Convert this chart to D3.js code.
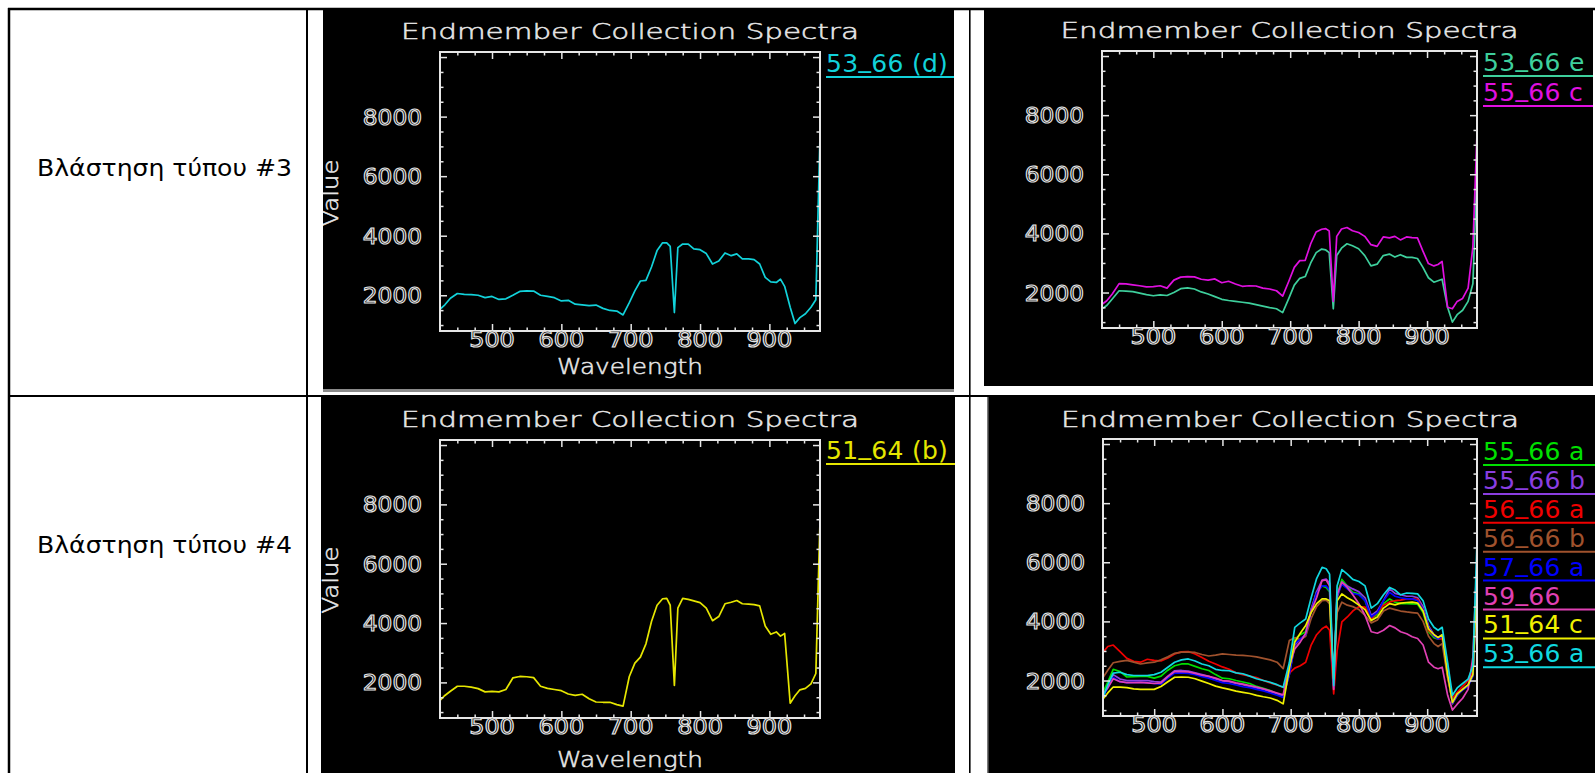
<!DOCTYPE html>
<html>
<head>
<meta charset="utf-8">
<title>Endmember Collection Spectra</title>
<script src="https://cdn.jsdelivr.net/npm/d3@7/dist/d3.min.js"></script>
<style>
  html, body { margin: 0; padding: 0; background: #fff; }
  svg { display: block; }
  text { font-family: "DejaVu Sans", "Liberation Sans", sans-serif; }
</style>
</head>
<body>
<svg id="fig" width="1595" height="773"></svg>
<script>
// Band centres (nm) shared by every spectrum below
const wavelengths = [
  425, 432, 440, 450, 460, 470, 480, 490, 500,
  510, 520, 530, 540, 550, 560, 570, 580, 590, 600,
  610, 620, 630, 640, 650, 660, 670, 680,
  689, 698, 706, 714, 722, 730, 738, 746,
  752, 757, 763, 768, 775, 783, 791, 800,
  809, 818, 827, 836, 845, 853, 861, 870,
  878, 886, 894, 902, 910, 916, 922, 930,
  937, 944, 952, 960, 967, 973
];

// Endmember spectra (one value per band)
const s53_66_d = [
  1530, 1680, 1900, 2060, 2030, 2020, 2000, 1920, 1960,
  1860, 1880, 2000, 2130, 2150, 2140, 2000, 1960, 1920, 1810,
  1830, 1700, 1680, 1650, 1670, 1560, 1490, 1470,
  1340, 1750, 2150, 2480, 2500, 2950, 3500, 3760,
  3760, 3640, 1420, 3600, 3720, 3720, 3560, 3530,
  3400, 3050, 3150, 3420, 3330, 3390, 3220, 3220,
  3200, 3050, 2600, 2450, 2430, 2540, 2300, 1600,
  1050, 1250, 1380, 1600, 1850, 7350
];
const s53_66_e = [
  1450, 1560, 1780, 2060, 2050, 2030, 1980, 1930, 1890,
  1920, 1900, 2000, 2130, 2160, 2120, 2020, 1950, 1860, 1770,
  1730, 1700, 1670, 1640, 1590, 1540, 1490, 1450,
  1320, 1800, 2250, 2480, 2540, 3000, 3350, 3470,
  3440, 3350, 1450, 3250, 3500, 3650, 3580, 3480,
  3250, 2900, 2960, 3250, 3300, 3200, 3280, 3190,
  3190, 3150, 2850, 2500, 2350, 2400, 2450, 1500,
  1000, 1250, 1400, 1700, 2300, 6150
];
const s55_66_c = [
  1600, 1720, 1950, 2300, 2290, 2260, 2230, 2190, 2200,
  2230, 2150, 2420, 2520, 2540, 2530, 2450, 2420, 2460, 2330,
  2380, 2290, 2210, 2230, 2220, 2150, 2120, 2060,
  1880, 2380, 2850, 3080, 3090, 3650, 4050, 4140,
  4160, 4080, 1700, 3900, 4150, 4200, 4090, 4030,
  3900, 3620, 3560, 3880, 3850, 3900, 3780, 3880,
  3860, 3850, 3400, 2980, 2900, 2950, 3050, 1500,
  1450, 1700, 1800, 2150, 3550, 7380
];
const s51_64_b = [
  1390, 1560, 1700, 1870, 1870, 1840, 1790, 1680, 1700,
  1680, 1760, 2150, 2200, 2190, 2160, 1870, 1800, 1760, 1720,
  1610, 1560, 1600, 1450, 1340, 1330, 1330, 1250,
  1200, 2200, 2650, 2850, 3300, 4050, 4600, 4820,
  4830, 4600, 1900, 4500, 4830, 4800, 4750, 4690,
  4500, 4080, 4220, 4650, 4700, 4760, 4650, 4640,
  4620, 4580, 3900, 3620, 3700, 3560, 3650, 1300,
  1550, 1750, 1800, 1950, 2300, 7450
];
const s55_66_a = [
  1600, 1950, 2380, 2300, 2120, 2130, 2140, 2140, 2080,
  2150, 2350, 2500, 2560, 2560, 2480, 2400, 2340, 2200, 2080,
  2060, 2000, 1950, 1900, 1800, 1740, 1660, 1550,
  1440, 2300, 3400, 3550, 3650, 4400, 5000, 5200,
  5150, 5000, 1700, 4900, 5420, 5200, 4980, 4930,
  4700, 4080, 4250, 4600, 4760, 4650, 4600, 4600,
  4590, 4580, 4300, 3650, 3450, 3400, 3500, 2300,
  1270, 1550, 1700, 1850, 2200, 5800
];
const s55_66_b = [
  1500, 1800, 2200, 2050, 2000, 2000, 2000, 2000, 1960,
  1950, 2150, 2330, 2340, 2320, 2260, 2200, 2140, 2050, 1990,
  1960, 1900, 1860, 1800, 1750, 1700, 1620, 1560,
  1480, 2200, 3200, 3400, 3550, 4400, 5000, 5400,
  5430, 5300, 1800, 4800, 5330, 5200, 5100, 5000,
  4800, 4200, 4350, 4700, 5100, 4950, 4900, 4850,
  4850, 4800, 4500, 3850, 3550, 3450, 3550, 2300,
  1210, 1500, 1700, 1850, 2200, 5600
];
const s56_66_a = [
  2950, 3150, 3200, 2980, 2750, 2650, 2620, 2720, 2680,
  2660, 2760, 2900, 2970, 2980, 2900, 2780, 2650, 2560, 2460,
  2380, 2260, 2200, 2150, 2100, 2000, 1920, 1850,
  1770, 2250, 2420, 2500, 2620, 3200, 3550, 3750,
  3840, 3700, 1550, 3000, 3980, 4150, 4350, 4500,
  4480, 4080, 4300, 4550, 4660, 4700, 4720, 4760,
  4760, 4750, 4400, 3700, 3500, 3400, 3420, 2100,
  1400, 1600, 1800, 2000, 2300, 5200
];
const s56_66_b = [
  2100, 2350, 2600, 2650, 2680, 2620, 2560, 2600, 2620,
  2700, 2800, 2920, 2960, 2960, 2950, 2880, 2830, 2860, 2900,
  2880, 2860, 2850, 2830, 2800, 2750, 2700, 2620,
  2400, 3350, 3450, 3380, 3500, 4100, 4500, 4700,
  4720, 4600, 2000, 4300, 4650, 4550, 4500, 4400,
  4200, 3950, 4050, 4350, 4450, 4400, 4350, 4320,
  4300, 4280, 4000, 3500, 3250, 3150, 3250, 2100,
  1300, 1550, 1700, 1850, 2150, 5000
];
const s57_66_a = [
  1450, 1750, 2100, 1960, 1930, 1940, 1940, 1930, 1900,
  1880, 2080, 2250, 2260, 2240, 2200, 2130, 2080, 2000, 1930,
  1900, 1850, 1790, 1760, 1700, 1650, 1580, 1500,
  1430, 2200, 3250, 3400, 3550, 4350, 4950, 5200,
  5200, 5050, 1750, 4900, 5250, 5100, 4950, 4900,
  4700, 4150, 4300, 4700, 4980, 4850, 4800, 4760,
  4760, 4700, 4400, 3800, 3500, 3400, 3500, 2300,
  1230, 1520, 1680, 1800, 2150, 5500
];
const s59_66 = [
  1550, 1750, 2060, 1960, 1930, 1930, 1940, 1920, 1900,
  1920, 2130, 2300, 2300, 2290, 2240, 2180, 2140, 2080, 2000,
  1980, 1920, 1880, 1830, 1780, 1720, 1650, 1580,
  1520, 2500, 3070, 3300, 3600, 4350, 4800, 5380,
  5400, 5200, 1700, 4900, 5330, 5150, 4900, 4600,
  4200, 3650, 3600, 3700, 3860, 3780, 3650, 3580,
  3480, 3420, 3200, 2620, 2450, 2400, 2450, 1500,
  1000, 1200, 1400, 1700, 2800, 6100
];
const s51_64_c = [
  1380, 1580, 1780, 1780, 1760, 1720, 1700, 1700, 1700,
  1800, 1960, 2110, 2120, 2110, 2060, 1980, 1900, 1810, 1750,
  1700, 1640, 1600, 1560, 1500, 1450, 1410, 1330,
  1210, 2400, 3300, 3600, 3860, 4300, 4600, 4760,
  4760, 4700, 2050, 4700, 4930, 4800, 4700, 4550,
  4400, 4030, 4150, 4450, 4600, 4560, 4620, 4640,
  4650, 4620, 4350, 3750, 3550, 3450, 3550, 2200,
  1250, 1550, 1700, 1850, 2200, 5400
];
const s53_66_a = [
  1440, 1850, 2250, 2280, 2200, 2170, 2170, 2170, 2200,
  2280, 2450, 2620, 2700, 2730, 2660, 2560, 2500, 2380, 2340,
  2330, 2260, 2230, 2150, 2060, 2000, 1940, 1860,
  1770, 2600, 3800, 3950, 4080, 4800, 5450, 5830,
  5780, 5600, 1830, 5200, 5750, 5600, 5420, 5350,
  5200, 4450, 4600, 4900, 5150, 5060, 4900, 4960,
  4950, 4930, 4700, 4080, 3800, 3700, 3800, 2600,
  1500, 1750, 1900, 2050, 2500, 6700
];

const rowLabels = ["Βλάστηση τύπου #3", "Βλάστηση τύπου #4"];
const plotTitle = "Endmember Collection Spectra";
const xTickLabels = [500, 600, 700, 800, 900];
const yTickLabels = [2000, 4000, 6000, 8000];
const xAxisTitle = "Wavelength";
const yAxisTitle = "Value";
const xDomain = [425, 973];
const yDomain = [800, 10170];

// spectra shown in each plot, in legend order
const panelSeries = [
  [ { name: "53_66 (d)", values: s53_66_d, color: "#12d2da" } ],
  [ { name: "53_66 e", values: s53_66_e, color: "#3ecf9c" },
    { name: "55_66 c", values: s55_66_c, color: "#e010e0" } ],
  [ { name: "51_64 (b)", values: s51_64_b, color: "#e6e600" } ],
  [ { name: "55_66 a", values: s55_66_a, color: "#00e000" },
    { name: "55_66 b", values: s55_66_b, color: "#8a3ee0" },
    { name: "56_66 a", values: s56_66_a, color: "#f00000" },
    { name: "56_66 b", values: s56_66_b, color: "#a0522d" },
    { name: "57_66 a", values: s57_66_a, color: "#0000ff" },
    { name: "59_66",   values: s59_66,   color: "#e040b4" },
    { name: "51_64 c", values: s51_64_c, color: "#f0f000" },
    { name: "53_66 a", values: s53_66_a, color: "#10d8e0" } ]
];

// placement of the four plot windows inside the table
const panels = [
  { bg: { x: 323, y: 10, w: 631, h: 382 }, box: { l: 440, t: 52, r: 820, b: 331 },
    titleY: 39, legendY: 72, legendStep: 30, axisTitles: true, yTitleY: 193, xTitleY: 374, edge: "bottom" },
  { bg: { x: 984, y: 10, w: 609, h: 376 }, box: { l: 1102, t: 51, r: 1477, b: 328 },
    titleY: 38, legendY: 71, legendStep: 30, axisTitles: false },
  { bg: { x: 321, y: 397, w: 634, h: 376 }, box: { l: 440, t: 440, r: 820, b: 718 },
    titleY: 427, legendY: 459, legendStep: 29, axisTitles: true, yTitleY: 580, xTitleY: 767 },
  { bg: { x: 987, y: 397, w: 608, h: 376 }, box: { l: 1103, t: 439, r: 1477, b: 716 },
    titleY: 427, legendY: 460, legendStep: 28.9, axisTitles: false, edge: "left" }
];

const ink = "#e6e6e6";
const svg = d3.select("#fig");
const defs = svg.append("defs");

// table rules
const rules = svg.append("g").attr("stroke", "#000");
[
  { x1: 8, y1: 9, x2: 1595, y2: 9, w: 2.5 },
  { x1: 9, y1: 8, x2: 9, y2: 773, w: 2.5 },
  { x1: 307, y1: 8, x2: 307, y2: 773, w: 2 },
  { x1: 969.8, y1: 8, x2: 969.8, y2: 773, w: 1.6 },
  { x1: 8, y1: 396, x2: 1595, y2: 396, w: 2 }
].forEach(r => rules.append("line")
  .attr("x1", r.x1).attr("y1", r.y1).attr("x2", r.x2).attr("y2", r.y2)
  .attr("stroke-width", r.w));

// row captions
svg.selectAll("text.rowlabel").data(rowLabels).join("text")
  .attr("class", "rowlabel")
  .attr("x", 37)
  .attr("y", (d, i) => i === 0 ? 176 : 553)
  .attr("font-size", 23)
  .attr("textLength", 255)
  .attr("lengthAdjust", "spacingAndGlyphs")
  .attr("fill", "#000")
  .text(d => d);

const minorX = d3.range(450, xDomain[1], 25).filter(v => v % 100 !== 0);
const majorX = xTickLabels;
const minorY = d3.range(1000, yDomain[1], 500).filter(v => v % 2000 !== 0);
const majorY = d3.range(2000, yDomain[1], 2000);

panels.forEach((p, k) => {
  const clipId = "panelclip" + k;
  defs.append("clipPath").attr("id", clipId).append("rect")
    .attr("x", p.bg.x).attr("y", p.bg.y).attr("width", p.bg.w).attr("height", p.bg.h);
  const plotClip = "plotclip" + k;
  defs.append("clipPath").attr("id", plotClip).append("rect")
    .attr("x", p.box.l).attr("y", p.box.t)
    .attr("width", p.box.r - p.box.l).attr("height", p.box.b - p.box.t);

  const g = svg.append("g").attr("clip-path", `url(#${clipId})`);
  g.append("rect").attr("x", p.bg.x).attr("y", p.bg.y)
    .attr("width", p.bg.w).attr("height", p.bg.h).attr("fill", "#000");
  if (p.edge === "bottom") {
    g.append("rect").attr("x", p.bg.x).attr("y", p.bg.y + p.bg.h - 3)
      .attr("width", p.bg.w).attr("height", 3).attr("fill", "#8a8a8a");
  } else if (p.edge === "left") {
    g.append("rect").attr("x", p.bg.x).attr("y", p.bg.y)
      .attr("width", 1.5).attr("height", p.bg.h).attr("fill", "#7a7a7a");
  }

  const x = d3.scaleLinear().domain(xDomain).range([p.box.l, p.box.r]);
  const y = d3.scaleLinear().domain(yDomain).range([p.box.b, p.box.t]);
  const cx = (p.box.l + p.box.r) / 2;

  // spectra
  const line = d3.line().x((d, i) => x(wavelengths[i])).y(d => y(d));
  g.append("g").attr("clip-path", `url(#${plotClip})`)
    .selectAll("path").data(panelSeries[k]).join("path")
    .attr("d", s => line(s.values))
    .attr("fill", "none")
    .attr("stroke", s => s.color)
    .attr("stroke-width", 1.7)
    .attr("stroke-linejoin", "round");

  // frame
  g.append("rect").attr("x", p.box.l).attr("y", p.box.t)
    .attr("width", p.box.r - p.box.l).attr("height", p.box.b - p.box.t)
    .attr("fill", "none").attr("stroke", ink).attr("stroke-width", 2);

  // inward ticks on all four sides
  const tickSets = [
    [d3.axisBottom, x, `translate(0,${p.box.b})`],
    [d3.axisTop, x, `translate(0,${p.box.t})`],
    [d3.axisLeft, y, `translate(${p.box.l},0)`],
    [d3.axisRight, y, `translate(${p.box.r},0)`]
  ];
  tickSets.forEach(([axisFn, scale, tr]) => {
    const isX = scale === x;
    [[isX ? minorX : minorY, 3.5], [isX ? majorX : majorY, 7]].forEach(([vals, len]) => {
      const a = g.append("g").attr("transform", tr)
        .call(axisFn(scale).tickValues(vals).tickSize(-len).tickFormat(""));
      a.select(".domain").remove();
      a.selectAll("line").attr("stroke", ink).attr("stroke-width", 1.5);
    });
  });

  // tick labels (outlined digits)
  g.selectAll("text.xtl").data(xTickLabels).join("text")
    .attr("class", "xtl")
    .attr("x", d => x(d)).attr("y", p.box.b + 16)
    .attr("text-anchor", "middle")
    .attr("font-size", 21)
    .attr("textLength", d => String(d).length * 15.2)
    .attr("lengthAdjust", "spacingAndGlyphs")
    .attr("fill", "#000").attr("stroke", ink).attr("stroke-width", 1.1)
    .text(d => d);
  g.selectAll("text.ytl").data(yTickLabels).join("text")
    .attr("class", "ytl")
    .attr("x", p.box.l - 18).attr("y", d => y(d) + 8)
    .attr("text-anchor", "end")
    .attr("font-size", 22)
    .attr("textLength", d => String(d).length * 14.8)
    .attr("lengthAdjust", "spacingAndGlyphs")
    .attr("fill", "#000").attr("stroke", ink).attr("stroke-width", 1.1)
    .text(d => d);

  // title
  g.append("text")
    .attr("x", cx).attr("y", p.titleY)
    .attr("text-anchor", "middle")
    .attr("font-size", 22).attr("font-weight", 300)
    .attr("textLength", 458).attr("lengthAdjust", "spacingAndGlyphs")
    .attr("fill", ink).attr("stroke", ink).attr("stroke-width", 0.5)
    .text(plotTitle);

  if (p.axisTitles) {
    g.append("text")
      .attr("x", cx).attr("y", p.xTitleY)
      .attr("text-anchor", "middle")
      .attr("font-size", 21).attr("font-weight", 300)
      .attr("textLength", 146).attr("lengthAdjust", "spacingAndGlyphs")
      .attr("fill", ink).attr("stroke", ink).attr("stroke-width", 0.5)
      .text(xAxisTitle);
    g.append("text")
      .attr("transform", `translate(338,${p.yTitleY}) rotate(-90)`)
      .attr("text-anchor", "middle")
      .attr("font-size", 22).attr("font-weight", 300)
      .attr("textLength", 67).attr("lengthAdjust", "spacingAndGlyphs")
      .attr("fill", ink).attr("stroke", ink).attr("stroke-width", 0.5)
      .text(yAxisTitle);
  }

  // legend: name with an underline in the spectrum colour;
  // the underscore sits on the baseline, as in the plot window font
  const lx = p.box.r + 6;
  const leg = g.selectAll("g.leg").data(panelSeries[k]).join("g")
    .attr("class", "leg")
    .attr("transform", (d, i) => `translate(0,${p.legendY + i * p.legendStep})`);
  const lt = leg.append("text")
    .attr("x", lx).attr("y", 0)
    .attr("font-size", 25)
    .attr("letter-spacing", 0.3)
    .attr("fill", d => d.color);
  lt.each(function (d) {
    const t = d3.select(this);
    d.name.split("_").forEach((part, j) => {
      if (j > 0) {
        t.append("tspan").attr("dy", -5).text("_");
        t.append("tspan").attr("dy", 5).text(part);
      } else {
        t.append("tspan").text(part);
      }
    });
  });
  leg.append("line")
    .attr("x1", lx).attr("x2", p.bg.x + p.bg.w)
    .attr("y1", 5).attr("y2", 5)
    .attr("stroke", d => d.color).attr("stroke-width", 2);
});
</script>
</body>
</html>
